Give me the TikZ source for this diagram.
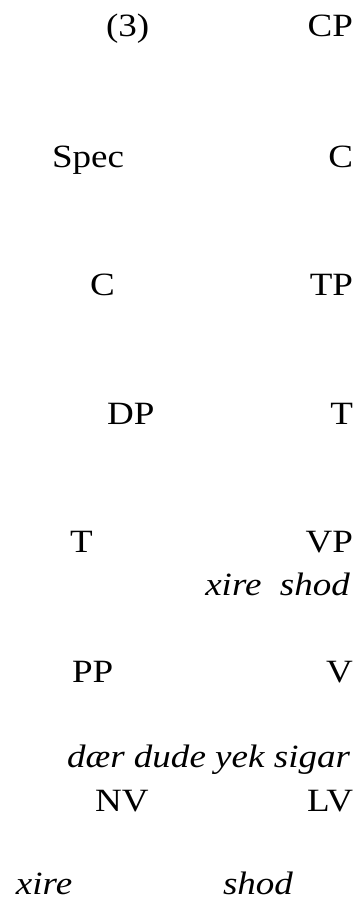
\documentclass[tikz,border=0pt]{standalone}
\usepackage{fontspec}
\setmainfont[FakeStretch=1.14]{Liberation Serif}
\begin{document}
\begin{tikzpicture}[x=1pt,y=-1pt,
  lbl/.style={inner sep=0pt,outer sep=0pt,font=\fontsize{32.5}{40}\selectfont},
  lw/.style={lbl,anchor=base west},
  le/.style={lbl,anchor=base east},
  gloss/.style={font=\fontsize{32.5}{40}\selectfont\itshape}]
\useasboundingbox (0,0) rectangle (361,899);
% CP level
\node[lw] (ex) at (106,37) {(3)};
\node[le] (cp) at (353,37) {CP};
% C-bar level
\node[lw] (spec) at (52,167) {Spec};
\node[le] (cbar) at (353,167) {C};
% C / TP
\node[lw] (c) at (90,295) {C};
\node[le] (tp) at (353,295) {TP};
% DP / T-bar
\node[lw] (dp) at (107,424) {DP};
\node[le] (tbar) at (353,424) {T};
% T / VP
\node[lw] (t) at (70,552) {T};
\node[le] (vp) at (353,552) {VP};
\node[le,gloss] (vpgl) at (350,595) {xire\ \ shod};
% PP / V
\node[lw] (pp) at (72,682) {PP};
\node[le] (v) at (353,682) {V};
\node[le,gloss] (ppgl) at (350,767) {dær dude yek sigar};
% NV / LV
\node[lw] (nv) at (95,811) {NV};
\node[le] (lv) at (353,811) {LV};
\node[lw,gloss] (nvgl) at (16,894) {xire};
\node[lw,gloss] (lvgl) at (223,894) {shod};
\end{tikzpicture}
\end{document}
